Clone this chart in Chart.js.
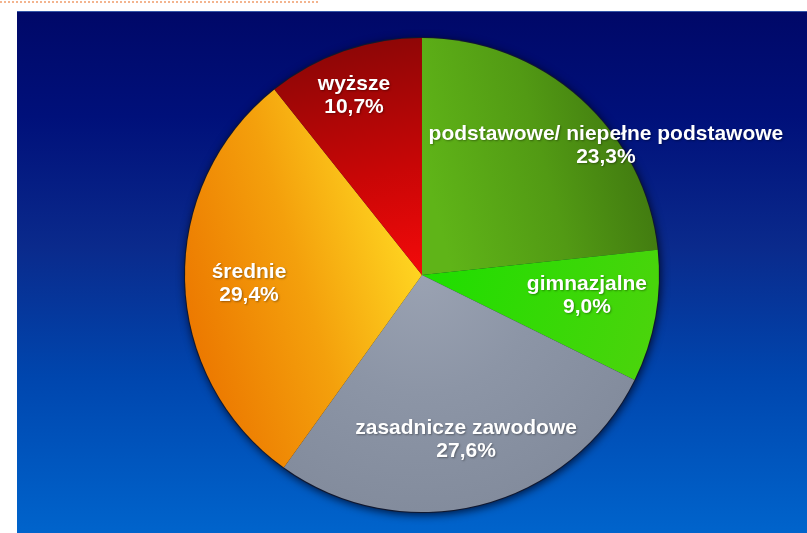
<!DOCTYPE html>
<html>
<head>
<meta charset="utf-8">
<script src="https://cdn.jsdelivr.net/npm/chart.js@4/dist/chart.umd.min.js"></script>
<style>
  html, body { margin: 0; padding: 0; background: #ffffff; }
  #wrap { position: relative; width: 807px; height: 533px; overflow: hidden; }
  #topline { position: absolute; left: 0; top: 1px; width: 318px; height: 0; border-top: 2px dotted #f3b48e; }
  #bg { position: absolute; left: 17px; top: 11px; width: 790px; height: 522px;
        border-top: 1px solid #3456a8;
        background: linear-gradient(to bottom, #000868 0%, #00107a 20%, #0a2a8c 45%, #0046ae 70%, #0064cc 100%); }
  #c { position: absolute; left: 0; top: 0; }
</style>
</head>
<body>
<div id="wrap">
  <div id="topline"></div>
  <div id="bg"></div>
  <canvas id="c" width="807" height="533"></canvas>
</div>
<script>
// ---- data ----
const categories = [
  'podstawowe/ niepełne podstawowe',
  'gimnazjalne',
  'zasadnicze zawodowe',
  'średnie',
  'wyższe'
];
const values = [23.3, 9.0, 27.6, 29.4, 10.7];
const valueLabels = ['23,3%', '9,0%', '27,6%', '29,4%', '10,7%'];

// ---- styling (not data) ----
// label centre offsets in units of the pie radius, relative to the pie centre
const labelOffsets = [
  [0.776, -0.544],
  [0.696, 0.089],
  [0.186, 0.696],
  [-0.730, 0.038],
  [-0.287, -0.755]
];

function pieGeometry(chart) {
  const a = chart.chartArea;
  return {
    cx: (a.left + a.right) / 2,
    cy: (a.top + a.bottom) / 2,
    r: Math.min(a.right - a.left, a.bottom - a.top) / 2
  };
}

function sliceGradient(context) {
  const chart = context.chart;
  const i = context.dataIndex;
  const ctx = chart.ctx;
  if (!chart.chartArea) {
    return ['#4e8f10', '#22dd00', '#8a93a4', '#f29a10', '#d01010'][i];
  }
  const { cx, cy, r } = pieGeometry(chart);
  let g;
  switch (i) {
    case 0: // podstawowe - olive green, darker at outer right
      g = ctx.createLinearGradient(cx + r * 0.05, cy - r * 0.3, cx + r, cy - r * 0.55);
      g.addColorStop(0, '#5fb418');
      g.addColorStop(0.5, '#529a14');
      g.addColorStop(1, '#3e740f');
      return g;
    case 1: // gimnazjalne - bright green
      g = ctx.createLinearGradient(cx, cy, cx + r, cy + r * 0.3);
      g.addColorStop(0, '#1ede00');
      g.addColorStop(1, '#4cd40c');
      return g;
    case 2: // zasadnicze - grey
      g = ctx.createRadialGradient(cx, cy, 0, cx, cy, r);
      g.addColorStop(0, '#9aa2b2');
      g.addColorStop(0.5, '#8c95a6');
      g.addColorStop(1, '#838c9d');
      return g;
    case 3: // średnie - orange to yellow near centre
      g = ctx.createLinearGradient(cx - r, cy + r * 0.2, cx, cy - r * 0.1);
      g.addColorStop(0, '#ec7800');
      g.addColorStop(0.5, '#f4a00c');
      g.addColorStop(1, '#ffd822');
      return g;
    case 4: // wyższe - dark red at top, bright red near centre
      g = ctx.createLinearGradient(cx - r * 0.2, cy - r, cx, cy);
      g.addColorStop(0, '#8c0606');
      g.addColorStop(0.55, '#c80606');
      g.addColorStop(1, '#f40a0a');
      return g;
  }
}

const shadowPlugin = {
  id: 'pieShadow',
  beforeDatasetsDraw(chart) {
    const arc = chart.getDatasetMeta(0).data[0];
    if (!arc) return;
    const ctx = chart.ctx;
    ctx.save();
    ctx.beginPath();
    ctx.arc(arc.x, arc.y, arc.outerRadius + 1, 0, Math.PI * 2);
    ctx.shadowColor = 'rgba(0,0,20,0.75)';
    ctx.shadowBlur = 8;
    ctx.shadowOffsetX = 1;
    ctx.shadowOffsetY = 2;
    ctx.fillStyle = '#101830';
    ctx.fill();
    ctx.restore();
  }
};

const labelPlugin = {
  id: 'sliceLabels',
  afterDatasetsDraw(chart) {
    const meta = chart.getDatasetMeta(0);
    const ctx = chart.ctx;
    ctx.save();
    ctx.font = 'bold 21px "Liberation Sans", Arial, sans-serif';
    ctx.textAlign = 'center';
    ctx.textBaseline = 'middle';
    ctx.fillStyle = '#ffffff';
    ctx.shadowColor = 'rgba(0,0,0,0.35)';
    ctx.shadowBlur = 2;
    ctx.shadowOffsetX = 1;
    ctx.shadowOffsetY = 1;
    meta.data.forEach((arc, i) => {
      const r = arc.outerRadius;
      const x = arc.x + labelOffsets[i][0] * r;
      const y = arc.y + labelOffsets[i][1] * r;
      ctx.fillText(categories[i], x, y - 11.5);
      ctx.fillText(valueLabels[i], x, y + 11.5);
    });
    ctx.restore();
  }
};

new Chart(document.getElementById('c'), {
  type: 'pie',
  data: {
    labels: categories,
    datasets: [{
      data: values,
      backgroundColor: sliceGradient,
      borderWidth: 0
    }]
  },
  options: {
    responsive: false,
    animation: false,
    rotation: 0,
    layout: { padding: { left: 37, right: 0, top: 38, bottom: 21 } },
    plugins: {
      legend: { display: false },
      tooltip: { enabled: false }
    }
  },
  plugins: [shadowPlugin, labelPlugin]
});
</script>
</body>
</html>
